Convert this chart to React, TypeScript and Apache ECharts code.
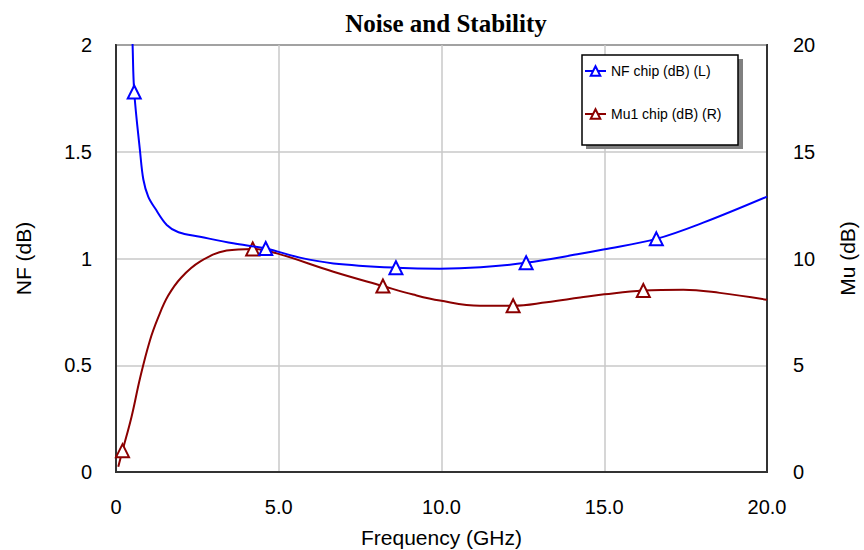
import React, { useEffect, useRef } from "react";
import * as echarts from "echarts";

const xTicks = ["0", "5.0", "10.0", "15.0", "20.0"];

// NF chip (dB), left axis
const nfFreq = [0.45, 0.51, 0.56, 0.74, 0.84, 0.99, 1.2, 1.56, 1.92, 2.58, 3.6, 4.6, 5.65, 6.68, 8.6, 9.95, 11.2, 12.6, 14.26, 14.97, 16.6, 18.04, 20.0];
const nfVal = [2.3, 2.0, 1.78, 1.5, 1.37, 1.29, 1.235, 1.157, 1.123, 1.102, 1.071, 1.047, 1.004, 0.977, 0.957, 0.952, 0.959, 0.98, 1.022, 1.042, 1.092, 1.168, 1.29];
const nfMarkers = [0.56, 4.6, 8.6, 12.6, 16.6];

// Mu1 chip (dB), right axis
const muFreq = [0.07, 0.2, 0.48, 0.74, 1.04, 1.3, 1.6, 2.0, 2.58, 3.4, 4.2, 4.94, 6.68, 8.2, 9.13, 9.95, 11.18, 12.2, 13.23, 14.26, 15.0, 16.2, 17.43, 18.55, 20.0];
const muVal = [0.25, 1.0, 2.6, 4.4, 6.15, 7.25, 8.25, 9.1, 9.85, 10.37, 10.45, 10.24, 9.38, 8.71, 8.31, 8.03, 7.79, 7.79, 7.95, 8.17, 8.32, 8.5, 8.54, 8.39, 8.07];
const muMarkers = [0.2, 4.2, 8.2, 12.2, 16.2];

const BLUE = "#0000FF";
const RED = "#8B0000";

function buildData(fs: number[], vs: number[], marks: number[]) {
  return fs.map((f, i) =>
    marks.includes(f) ? { value: [f, vs[i]] } : { value: [f, vs[i]], symbol: "none" }
  );
}

export default function App() {
  const ref = useRef<HTMLDivElement>(null);
  useEffect(() => {
    if (!ref.current) return;
    const chart = echarts.init(ref.current, undefined, { renderer: "svg" });
    const font = "'Liberation Sans', Arial, sans-serif";
    chart.setOption({
      animation: false,
      backgroundColor: "#fff",
      title: {
        text: "Noise and Stability",
        left: 441,
        textAlign: "center",
        top: 6,
        textStyle: {
          fontFamily: "'Liberation Serif', 'Times New Roman', serif",
          fontWeight: "bold",
          fontSize: 25,
          color: "#000",
        },
      },
      grid: {
        left: 116,
        right: 97,
        top: 45,
        bottom: 78,
        outerBoundsMode: "none",
        containLabel: false,
        show: true,
        borderColor: "#333",
        borderWidth: 2,
      },
      graphic: [
        { type: "rect", shape: { x: 586, y: 59, width: 157, height: 90 }, style: { fill: "#808080" }, z: 50 },
        { type: "rect", shape: { x: 582, y: 55, width: 156, height: 90 }, style: { fill: "#fff", stroke: "#000", lineWidth: 1.5 }, z: 51 },
      ],
      legend: {
        orient: "vertical",
        left: 584,
        top: 64,
        padding: 0,
        itemWidth: 21,
        itemHeight: 12,
        itemGap: 29,
        z: 60,
        textStyle: { fontFamily: font, fontSize: 14, color: "#000" },
        data: ["NF chip (dB) (L)", "Mu1 chip (dB) (R)"],
      },
      xAxis: {
        type: "value",
        min: 0,
        max: 20,
        interval: 5,
        name: "Frequency (GHz)",
        nameLocation: "middle",
        nameGap: 55,
        nameTextStyle: { fontFamily: font, fontSize: 21, color: "#000" },
        axisLine: { show: true, lineStyle: { color: "#333", width: 2 } },
        axisTick: { show: false },
        axisLabel: {
          fontFamily: font,
          fontSize: 20,
          color: "#000",
          margin: 25,
          formatter: (v: number) => xTicks[Math.round(v / 5)] ?? String(v),
        },
        splitLine: { show: true, lineStyle: { color: "#C8C8C8", width: 1.5 } },
      },
      yAxis: [
        {
          type: "value",
          min: 0,
          max: 2,
          interval: 0.5,
          name: "NF (dB)",
          nameLocation: "middle",
          nameRotate: 90,
          nameGap: 82,
          nameTextStyle: { fontFamily: font, fontSize: 21, color: "#000" },
          axisLine: { show: true, lineStyle: { color: "#333", width: 2 } },
          axisTick: { show: false },
          axisLabel: { fontFamily: font, fontSize: 20, color: "#000", margin: 24 },
          splitLine: { show: true, lineStyle: { color: "#C8C8C8", width: 1.5 } },
        },
        {
          type: "value",
          position: "right",
          min: 0,
          max: 20,
          interval: 5,
          name: "Mu (dB)",
          nameLocation: "middle",
          nameRotate: 90,
          nameGap: 70,
          nameTextStyle: { fontFamily: font, fontSize: 21, color: "#000" },
          axisLine: { show: true, lineStyle: { color: "#333", width: 2 } },
          axisTick: { show: false },
          axisLabel: { fontFamily: font, fontSize: 20, color: "#000", margin: 26 },
          splitLine: { show: false },
        },
      ],
      series: [
        {
          name: "NF chip (dB) (L)",
          type: "line",
          yAxisIndex: 0,
          smooth: 0.35,
          showAllSymbol: true,
          symbol: "emptyTriangle",
          symbolSize: 13,
          color: BLUE,
          itemStyle: { color: BLUE, borderColor: BLUE, borderWidth: 2 },
          lineStyle: { color: BLUE, width: 2 },
          data: buildData(nfFreq, nfVal, nfMarkers),
          z: 3,
        },
        {
          name: "Mu1 chip (dB) (R)",
          type: "line",
          yAxisIndex: 1,
          smooth: 0.4,
          showAllSymbol: true,
          symbol: "emptyTriangle",
          symbolSize: 13,
          color: RED,
          itemStyle: { color: RED, borderColor: RED, borderWidth: 2 },
          lineStyle: { color: RED, width: 2 },
          data: buildData(muFreq, muVal, muMarkers),
          z: 2,
        },
      ],
    });
    return () => chart.dispose();
  }, []);
  return (
    <div
      ref={ref}
      style={{ position: "absolute", left: 0, top: 0, width: 864, height: 550 }}
    />
  );
}
